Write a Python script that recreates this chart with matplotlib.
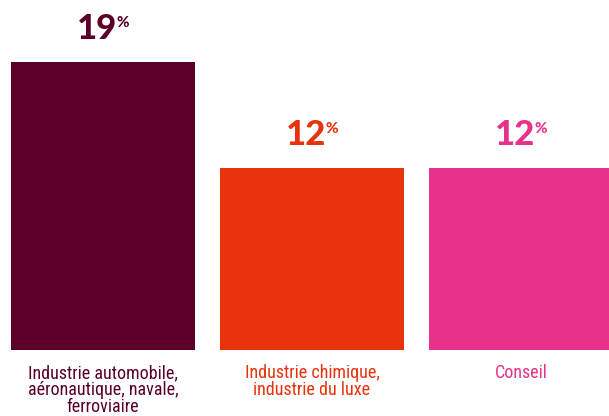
import matplotlib
matplotlib.use('Agg')
import matplotlib.pyplot as plt

# Chart data
categories = ['Industrie automobile,\naéronautique, navale,\nferroviaire',
              'Industrie chimique,\nindustrie du luxe',
              'Conseil']
values = [19, 12, 12]
colors = ['#5a0029', '#e8320c', '#e8318a']

fig = plt.figure(figsize=(6.09, 4.16), dpi=100)
ax = fig.add_axes([0, 66 / 416, 1, 350 / 416])

x = list(range(len(values)))
ax.bar(x, values, width=0.88, color=colors)
ax.set_xlim(-103 / 209, (609 - 103) / 209)
ax.set_ylim(0, 350 / 15.16)
ax.axis('off')

fig.canvas.draw()
renderer = fig.canvas.get_renderer()
for xi, v, c in zip(x, values, colors):
    # number + small raised percent sign, centred together over the bar
    num = ax.annotate(str(v), (xi, v), xytext=(0, 16.5), textcoords='offset points',
                      ha='left', va='baseline', fontsize=25, fontweight=900,
                      family='Lato', color=c)
    pct = ax.annotate('%', (xi, v), xytext=(0, 0), textcoords='offset points',
                      ha='left', va='top', fontsize=11, fontweight=900,
                      family='Lato', color=c)
    nb = num.get_window_extent(renderer)
    pb = pct.get_window_extent(renderer)
    gap = -1
    total = nb.width + gap + pb.width
    cx = ax.transData.transform((xi, v))[0]
    left = cx - total / 2
    num.xy = (left, nb.y0)
    num.xycoords = 'figure pixels'
    num.set_position((0, 0))
    num.set_va('bottom')
    pct.xy = (left + nb.width + gap, nb.y1 - 3)
    pct.xycoords = 'figure pixels'

    ax.annotate(categories[xi], (xi, 0), xytext=(0, -10), textcoords='offset points',
                ha='center', va='top', fontsize=13,
                family='Roboto Condensed', color=c, linespacing=0.95,
                annotation_clip=False)

fig.savefig('out.png', dpi=100)
